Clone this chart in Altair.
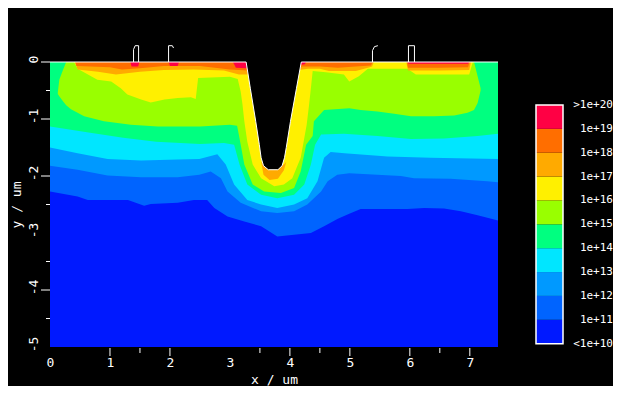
import altair as alt
import pandas as pd

# ---------------- data ----------------
X_MAX = 7.47
Y_MIN = -5.0

LEVEL_EXP = [10, 11, 12, 13, 14, 15, 16, 17, 18, 19, 20]
LEVEL_LABELS = ["<1e+10", "1e+11", "1e+12", "1e+13", "1e+14", "1e+15",
                "1e+16", "1e+17", "1e+18", "1e+19", ">1e+20"]
LEVEL_COLORS = ["#0019FF", "#0064FF", "#0099FF", "#00E6FF", "#00FF80",
                "#99FF00", "#FFF000", "#FFAA00", "#FF6E00", "#FF0044"]

# background band (< 1e11) spans the whole section
BG_X = [0.0, X_MAX]
BG_BOT = [Y_MIN, Y_MIN]

# 1e11 contour (bottom of blue band)
BLUE_X = [0, 0.46, 0.63, 1.30, 1.57, 1.68, 2.13, 2.40, 2.62, 2.74, 2.96, 3.24, 3.52,
          3.79, 4.07, 4.35, 4.57, 4.80, 5.00, 5.18, 5.96, 6.24, 6.57, 6.85, 7.13, 7.47]
BLUE_BOT = [-2.27, -2.36, -2.42, -2.42, -2.52, -2.49, -2.47, -2.42, -2.42, -2.56, -2.71,
            -2.80, -2.88, -3.06, -3.03, -3.00, -2.88, -2.75, -2.66, -2.58, -2.58, -2.56,
            -2.57, -2.62, -2.69, -2.78]

# 1e12 contour
LBLUE_X = [0, 0.46, 0.96, 1.52, 2.13, 2.49, 2.68, 2.85, 2.96, 3.18, 3.52, 3.79, 4.07,
           4.29, 4.52, 4.63, 4.79, 4.99, 5.85, 6.07, 6.68, 7.29, 7.47]
LBLUE_BOT = [-1.82, -1.89, -1.99, -2.02, -2.02, -1.98, -1.92, -2.04, -2.27, -2.47, -2.62,
             -2.65, -2.62, -2.50, -2.27, -2.09, -1.98, -1.95, -2.00, -2.04, -2.05, -2.09, -2.11]

# 1e13 contour
CYAN_X = [0, 0.46, 0.96, 1.52, 2.13, 2.49, 2.79, 2.93, 3.07, 3.29, 3.52, 3.79, 4.07,
          4.29, 4.46, 4.57, 4.68, 4.91, 5.63, 6.35, 7.47]
CYAN_BOT = [-1.50, -1.60, -1.70, -1.73, -1.71, -1.70, -1.62, -1.80, -2.15, -2.42, -2.50,
            -2.56, -2.50, -2.39, -2.09, -1.68, -1.58, -1.60, -1.66, -1.68, -1.70]

# 1e14 contour
GREEN_X = [0, 0.67, 1.22, 1.77, 2.50, 2.90, 3.07, 3.16, 3.29, 3.52, 3.79, 4.07, 4.24,
           4.35, 4.42, 4.52, 4.90, 5.46, 6.02, 6.57, 7.13, 7.47]
GREEN_BOT = [-1.13, -1.24, -1.33, -1.40, -1.44, -1.42, -1.45, -1.80, -2.15, -2.33, -2.39,
             -2.33, -2.15, -1.80, -1.45, -1.27, -1.26, -1.30, -1.35, -1.34, -1.30, -1.26]

# 1e15 region (does not reach the surface at both ends)
LIME_X = [0.13, 0.155, 0.21, 0.27, 0.35, 0.57, 0.90, 1.35, 1.80, 2.50, 3.00, 3.12, 3.18,
          3.24, 3.38, 3.57, 3.85, 4.07, 4.18, 4.27, 4.38, 4.40, 4.57, 4.99, 5.18, 5.46,
          5.74, 6.02, 6.40, 6.74, 6.96, 7.07, 7.13, 7.18]
LIME_TOP = [-0.54, -0.31, -0.16, 0, 0, 0, 0, 0, 0, 0, 0, 0, 0,
            0, 0, 0, 0, 0, 0, 0, 0, 0, 0, 0, 0, 0,
            0, 0, 0, 0, 0, 0, -0.25, -0.46]
LIME_BOT = [-0.56, -0.60, -0.68, -0.76, -0.83, -0.95, -1.04, -1.10, -1.13, -1.13, -1.10,
            -1.12, -1.45, -1.80, -2.15, -2.27, -2.30, -2.21, -1.92, -1.45, -1.30, -1.04,
            -0.84, -0.81, -0.84, -0.87, -0.91, -0.95, -0.95, -0.94, -0.89, -0.84, -0.72, -0.50]

# 1e16 region
YELLOW_X = [0.40, 0.46, 0.79, 1.02, 1.18, 1.29, 1.52, 1.68, 1.91, 2.13, 2.35, 2.43, 2.47,
            3.00, 3.13, 3.18, 3.21, 3.24, 3.29, 3.38, 3.52, 3.74, 3.90, 4.04, 4.18, 4.22,
            4.28, 4.32, 4.35, 4.38, 4.60, 4.90, 4.99, 5.15, 5.30, 5.96, 6.10, 6.99, 7.05]
YELLOW_BOT = [0, -0.12, -0.31, -0.34, -0.46, -0.57, -0.66, -0.71, -0.66, -0.63, -0.62,
              -0.65, -0.28, -0.26, -0.30, -0.52, -0.75, -1.04, -1.40, -1.80, -2.04, -2.18,
              -2.15, -2.04, -1.68, -1.45, -1.10, -0.75, -0.46, -0.16, -0.18, -0.22, -0.34,
              -0.25, -0.12, -0.12, -0.22, -0.22, 0]

# 1e17 patches
AMBER_SEG = [0] * 10 + [1] * 6 + [2] * 8 + [3] * 5
AMBER_X = [0.42, 0.46, 0.80, 1.10, 1.50, 1.90, 2.40, 2.90, 3.15, 3.30,
           3.52, 3.56, 3.66, 3.80, 3.90, 3.94,
           4.15, 4.30, 4.50, 4.65, 5.10, 5.30, 5.37, 5.40,
           5.94, 5.97, 6.50, 6.99, 7.02]
AMBER_TOP = [0] * 10 + [-1.75, -1.80, -1.85, -1.85, -1.80, -1.75] + [0] * 8 + [0] * 5
AMBER_BOT = [0, -0.13, -0.17, -0.22, -0.17, -0.14, -0.13, -0.15, -0.22, -0.22,
             -1.75, -1.98, -2.07, -2.05, -1.90, -1.75,
             -0.14, -0.12, -0.12, -0.16, -0.16, -0.10, -0.08, 0,
             0, -0.15, -0.15, -0.14, 0]

# 1e18 patches
ORANGE_SEG = [0] * 9 + [1] * 7 + [2] * 5
ORANGE_X = [0.42, 0.44, 1.00, 1.20, 1.50, 1.90, 2.50, 3.00, 3.30,
            4.15, 4.20, 4.50, 4.80, 5.10, 5.35, 5.38,
            5.95, 5.97, 6.50, 6.97, 7.00]
ORANGE_BOT = [0, -0.07, -0.09, -0.13, -0.11, -0.07, -0.07, -0.13, -0.15,
              -0.10, -0.08, -0.08, -0.10, -0.08, -0.06, 0,
              0, -0.10, -0.10, -0.09, 0]

# 1e19 patches
RED_SEG = [0] * 4 + [1] * 4 + [2] * 4 + [3] * 4 + [4] * 4
RED_X = [1.34, 1.36, 1.47, 1.49,
         1.98, 2.00, 2.13, 2.15,
         3.05, 3.10, 3.27, 3.30,
         4.15, 4.19, 4.25, 4.27,
         5.96, 5.98, 6.97, 6.99]
RED_BOT = [0, -0.08, -0.08, 0,
           0, -0.07, -0.07, 0,
           0, -0.10, -0.11, -0.11,
           -0.06, -0.05, -0.04, 0,
           0, -0.03, -0.03, 0]

# trench (etched, empty)
TRENCH_X = [3.27, 3.34, 3.43, 3.49, 3.52, 3.56, 3.64, 3.80, 3.87, 3.91, 3.94, 4.01, 4.11, 4.19]
TRENCH_Y = [0, -0.46, -1.04, -1.45, -1.68, -1.82, -1.89, -1.89, -1.82, -1.68, -1.50, -1.04, -0.46, 0]

# surface line
SURF_X = [0.0] + TRENCH_X + [X_MAX]
SURF_Y = [0.0] + TRENCH_Y + [0.0]

# electrode outlines above the surface
ELEC_ID = [0] * 5 + [1] * 4 + [2] * 4 + [3] * 4
ELEC_X = [1.393, 1.393, 1.42, 1.477, 1.477,
          1.977, 1.977, 2.04, 2.06,
          5.377, 5.377, 5.41, 5.467,
          5.977, 5.977, 6.077, 6.077]
ELEC_Y = [0, 0.22, 0.286, 0.286, 0,
          0, 0.286, 0.286, 0.245,
          0, 0.20, 0.27, 0.286,
          0, 0.286, 0.286, 0]

# axis ticks
X_LABELS = [0, 1, 2, 3, 4, 5, 6, 7]
Y_LABELS = [0, -1, -2, -3, -4, -5]
X_MAJOR = [1, 2, 4, 5, 6, 7]
X_MINOR = [1.5, 3.5, 4.5, 6.5]
Y_MAJOR = [0, -1, -2, -4]
Y_MINOR = [-0.5, -2.5, -3.5, -4.5]

# ---------------- chart ----------------
W, H = 448, 285
FONT = "DejaVu Sans Mono"

XS = alt.Scale(domain=[0, X_MAX], nice=False, zero=False)
YS = alt.Scale(domain=[Y_MIN, 0], nice=False, zero=False)
X_AXIS = alt.Axis(values=X_LABELS, labelExpr="'' + datum.value", title="x / um",
                  ticks=False, domain=False, grid=False, labelPadding=9, titlePadding=4,
                  labelFlush=False)
Y_AXIS = alt.Axis(values=Y_LABELS, labelExpr="'' + datum.value", title="y / um",
                  ticks=False, domain=False, grid=False, labelAngle=-90,
                  labelAlign="center", labelBaseline="bottom", labelPadding=10,
                  labelOffset=-3, titlePadding=4, labelFlush=False)


def xenc(field="x"):
    return alt.X(f"{field}:Q", scale=XS, axis=X_AXIS)


def yenc(field):
    return alt.Y(f"{field}:Q", scale=YS, axis=Y_AXIS)


def band(xs, bots, color, tops=None, segs=None):
    n = len(xs)
    df = pd.DataFrame({
        "x": xs,
        "top": tops if tops is not None else [0.0] * n,
        "bot": bots,
        "seg": segs if segs is not None else [0] * n,
    })
    return alt.Chart(df).mark_area(color=color, opacity=1, interpolate="linear").encode(
        x=xenc(), y=yenc("top"), y2="bot:Q", detail="seg:N")


layers = [
    band(BG_X, BG_BOT, LEVEL_COLORS[0]),
    band(BLUE_X, BLUE_BOT, LEVEL_COLORS[1]),
    band(LBLUE_X, LBLUE_BOT, LEVEL_COLORS[2]),
    band(CYAN_X, CYAN_BOT, LEVEL_COLORS[3]),
    band(GREEN_X, GREEN_BOT, LEVEL_COLORS[4]),
    band(LIME_X, LIME_BOT, LEVEL_COLORS[5], tops=LIME_TOP),
    band(YELLOW_X, YELLOW_BOT, LEVEL_COLORS[6]),
    band(AMBER_X, AMBER_BOT, LEVEL_COLORS[7], tops=AMBER_TOP, segs=AMBER_SEG),
    band(ORANGE_X, ORANGE_BOT, LEVEL_COLORS[8], segs=ORANGE_SEG),
    band(RED_X, RED_BOT, LEVEL_COLORS[9], segs=RED_SEG),
    band(TRENCH_X, TRENCH_Y, "black"),
]

surf = alt.Chart(pd.DataFrame({"x": SURF_X, "y": SURF_Y, "o": list(range(len(SURF_X)))})).mark_line(
    color="white", strokeWidth=1).encode(x=xenc(), y=yenc("y"), order="o:Q")

elec = alt.Chart(pd.DataFrame({"x": ELEC_X, "y": ELEC_Y, "id": ELEC_ID,
                               "o": list(range(len(ELEC_X)))})).mark_line(
    color="white", strokeWidth=1, clip=False).encode(
    x=xenc(), y=yenc("y"), detail="id:N", order="o:Q")

ymaj = alt.Chart(pd.DataFrame({"y": Y_MAJOR})).mark_rule(color="white").encode(
    y=yenc("y"), x=alt.value(-9), x2=alt.value(0))
ymin = alt.Chart(pd.DataFrame({"y": Y_MINOR})).mark_rule(color="white").encode(
    y=yenc("y"), x=alt.value(-4), x2=alt.value(0))
xmaj = alt.Chart(pd.DataFrame({"x": X_MAJOR})).mark_rule(color="white").encode(
    x=xenc(), y=alt.value(H + 1), y2=alt.value(H + 9))
xmin = alt.Chart(pd.DataFrame({"x": X_MINOR})).mark_rule(color="white").encode(
    x=xenc(), y=alt.value(H + 1), y2=alt.value(H + 6))

main = alt.layer(*layers, surf, elec, ymaj, ymin, xmaj, xmin).properties(width=W, height=H)

# colour bar
CB_SCALE = alt.Scale(domain=[9.86, 21.80], nice=False, zero=False)
cb_df = pd.DataFrame({"lo": LEVEL_EXP[:-1], "hi": LEVEL_EXP[1:], "c": LEVEL_COLORS})
cb_rects = alt.Chart(cb_df).mark_rect().encode(
    x=alt.value(0), x2=alt.value(27),
    y=alt.Y("lo:Q", scale=CB_SCALE, axis=None), y2="hi:Q",
    color=alt.Color("c:N", scale=None, legend=None))
cb_border = alt.Chart(pd.DataFrame({"lo": [LEVEL_EXP[0]], "hi": [LEVEL_EXP[-1]]})).mark_rect(
    fillOpacity=0, stroke="white", strokeWidth=1.5).encode(
    x=alt.value(0), x2=alt.value(27),
    y=alt.Y("lo:Q", scale=CB_SCALE, axis=None), y2="hi:Q")
cb_text = alt.Chart(pd.DataFrame({"v": LEVEL_EXP, "t": LEVEL_LABELS})).mark_text(
    align="right", baseline="middle", font=FONT, fontSize=11, color="white").encode(
    x=alt.value(77), y=alt.Y("v:Q", scale=CB_SCALE, axis=None), text="t:N")
cbar = alt.layer(cb_rects, cb_border, cb_text).properties(width=27, height=H)

chart = alt.hconcat(main, cbar, spacing=35).properties(
    padding={"left": 2, "top": 35, "right": 0, "bottom": 0}
).configure(background="black").configure_view(stroke=None).configure_axis(
    labelColor="white", titleColor="white", labelFont=FONT, titleFont=FONT,
    labelFontSize=13, titleFontSize=13, titleFontWeight="normal")

chart.save("out.html", embed_options={"renderer": "svg", "actions": False})
